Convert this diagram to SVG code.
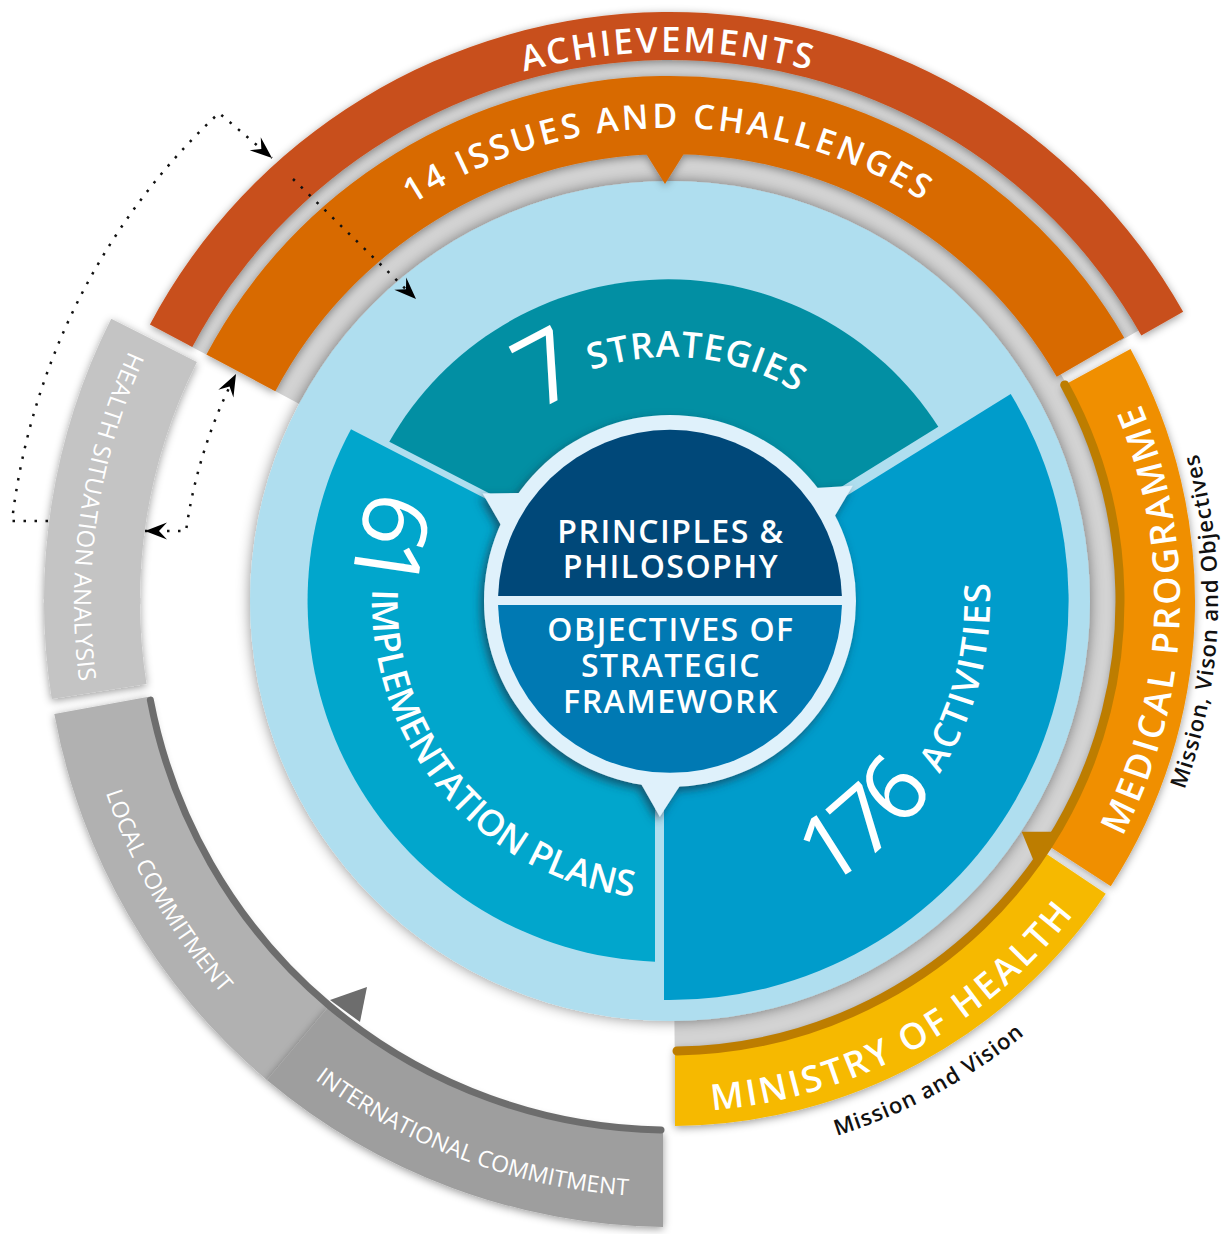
<svg xmlns="http://www.w3.org/2000/svg" width="1228" height="1234" viewBox="0 0 1228 1234">
<defs>
<style>
.lbl{font-family:"Open Sans","Liberation Sans",sans-serif;font-weight:600;fill:#fff}
.gl{font-family:"Open Sans","Liberation Sans",sans-serif;font-weight:400;fill:#fff}
.num{font-family:"Open Sans","Liberation Sans",sans-serif;font-weight:400;fill:#fff}
.blk{font-family:"Open Sans","Liberation Sans",sans-serif;font-weight:600;fill:#111}
.ctr{font-family:"Open Sans","Liberation Sans",sans-serif;font-weight:600;fill:#fff;font-size:32px;letter-spacing:1.5px}
.dot{fill:none;stroke:#111;stroke-width:2.5;stroke-dasharray:2.5 8.5}
.groove{fill:#d3d3d3}
</style>
<filter id="bs" x="-20%" y="-20%" width="140%" height="140%"><feDropShadow dx="0" dy="2" stdDeviation="4" flood-color="#000" flood-opacity="0.4"/></filter>
<filter id="ds" x="-10%" y="-10%" width="120%" height="120%"><feDropShadow dx="0" dy="0" stdDeviation="7" flood-color="#000" flood-opacity="0.45"/></filter>
<filter id="rs" x="-20%" y="-20%" width="140%" height="140%"><feDropShadow dx="-3" dy="4" stdDeviation="5" flood-color="#1d3b4f" flood-opacity="0.75"/></filter>
<marker id="ah" viewBox="-23 -9 24 18" refX="0" refY="0" markerWidth="24" markerHeight="18" markerUnits="userSpaceOnUse" orient="auto-start-reverse"><path d="M0,0 L-22,-8.5 L-14,0 L-22,8.5 Z" fill="#000"/></marker>
<path id="tpAch" d="M 315.64,181.67 A 549 549 0 0 1 1021.23,179.06"/>
<path id="tpIss" d="M 306.60,298.22 A 473 473 0 0 1 1031.28,295.70"/>
<path id="tpStr" d="M 479.04,449.11 A 244 244 0 0 1 852.75,439.32"/>
<path id="tpMed" d="M 1016.19,975.50 A 510 510 0 0 0 1044.20,254.49"/>
<path id="tpMvo" d="M 1041.98,1003.41 A 548 548 0 0 0 1072.08,228.67"/>
<path id="tpMin" d="M 525.72,1091.21 A 511 511 0 0 0 1160.21,745.28"/>
<path id="tpMv" d="M 556.00,1149.63 A 560 560 0 0 0 1190.68,807.15"/>
<path id="tpHsa" d="M 275.08,154.62 A 596 596 0 0 0 161.83,912.41"/>
<path id="tpLoc" d="M 76.27,549.05 A 596 596 0 0 0 418.12,1141.16"/>
<path id="tpInt" d="M 152.30,896.29 A 596 596 0 0 0 870.91,1162.12"/>
<path id="tp61" d="M 401.80,430.14 A 318 318 0 0 0 354.72,642.51"/>
<path id="tpImp" d="M 376.26,550.79 A 298 298 0 0 0 671.56,899"/>
<path id="tpAct" d="M 730.51,915.23 A 320 320 0 0 0 968.94,486.84"/>
</defs>
<rect width="1228" height="1234" fill="#fff"/>

<g id="grooves">
<path class="groove" d="M 270.91,388.80 A 452 452 0 1 1 674.73,1052.98 L 674.35,1015.98 A 415 415 0 1 0 303.58,406.17 Z"/>
<path class="groove" d="M 188.79,345.14 A 545 545 0 0 1 1141.98,328.5 L 1120.33,341 A 520 520 0 0 0 210.87,356.88 Z"/>
</g>

<g id="core-disk">
<circle cx="670" cy="601" r="420" fill="#afdeef" filter="url(#ds)"/>
</g>

<g id="strategies">
<path d="M 675.9,589.4 L 389.3,441.7 A 321 321 0 0 1 938.3,426.7 Z" fill="#028fa3"/>
<text text-anchor="middle"><textPath href="#tpStr" startOffset="50%"><tspan class="num" font-size="98" dy="14">7</tspan><tspan class="lbl" font-size="36" letter-spacing="1" dy="-14"> STRATEGIES</tspan></textPath></text>
</g>

<g id="implementation-plans">
<path d="M 655,585.9 L 351,429.3 A 361 361 0 0 0 655,961.7 Z" fill="#01a6cc"/>
<text class="num" font-size="92" letter-spacing="-6" text-anchor="middle"><textPath href="#tp61" startOffset="50%">61</textPath></text>
<text class="lbl" font-size="36" text-anchor="middle"><textPath href="#tpImp" startOffset="50%">IMPLEMENTATION PLANS</textPath></text>
</g>

<g id="activities">
<path d="M 664,609 L 1010.7,394 A 399 399 0 0 1 664,1000 Z" fill="#009ccb"/>
<text text-anchor="middle"><textPath href="#tpAct" startOffset="50%"><tspan class="num" font-size="92" letter-spacing="-5" dy="5">176</tspan><tspan class="lbl" font-size="36" letter-spacing="2" dx="8" dy="-5"> ACTIVITIES</tspan></textPath></text>
</g>

<g id="center">
<g filter="url(#rs)" fill="#dff1fb">
<circle cx="670" cy="601" r="186"/>
<polygon points="482.7,493.5 501.78,526.45 520.95,493.11"/>
<polygon points="852.7,485.8 815.19,487.97 833.95,517.47"/>
<polygon points="659.82,816.76 640.27,782.58 680.59,784.69"/>
</g>
<path d="M 498.1,596 A 172 172 0 0 1 841.9,596 Z" fill="#004879"/>
<path d="M 841.95,605 A 172 172 0 0 1 498.05,605 Z" fill="#0079b3"/>
<text class="ctr" x="671" y="543" text-anchor="middle">PRINCIPLES &amp;</text>
<text class="ctr" x="671" y="578" text-anchor="middle">PHILOSOPHY</text>
<text class="ctr" x="671" y="641" text-anchor="middle">OBJECTIVES OF</text>
<text class="ctr" x="671" y="677" text-anchor="middle">STRATEGIC</text>
<text class="ctr" x="671" y="713" text-anchor="middle">FRAMEWORK</text>
</g>

<g id="health-situation-analysis">
<path d="M 51.71,698.93 A 626 626 0 0 1 111.24,318.75 L 196.93,362.03 A 530 530 0 0 0 146.52,683.91 Z" fill="#c4c4c4" filter="url(#bs)"/>
<text class="gl" font-size="24" letter-spacing="0.3" text-anchor="middle"><textPath href="#tpHsa" startOffset="50%">HEALTH SITUATION ANALYSIS</textPath></text>
</g>

<g id="local-commitment">
<path d="M 54.29,714.01 A 626 626 0 0 0 266.92,1079.96 L 328.73,1006.51 A 530 530 0 0 1 148.71,696.68 Z" fill="#b1b1b1" filter="url(#bs)"/>
<text class="gl" font-size="23" text-anchor="middle"><textPath href="#tpLoc" startOffset="50%">LOCAL COMMITMENT</textPath></text>
</g>

<g id="international-commitment">
<path d="M 266.92,1079.96 A 626 626 0 0 0 663,1226.96 L 663,1130.95 A 530 530 0 0 1 328.73,1006.51 Z" fill="#9e9e9e" filter="url(#bs)"/>
<text class="gl" font-size="23" text-anchor="middle"><textPath href="#tpInt" startOffset="50%">INTERNATIONAL COMMITMENT</textPath></text>
</g>

<g id="achievements">
<path d="M 149.94,324.48 A 589 589 0 0 1 1183.14,311.86 L 1141.32,335.42 A 541 541 0 0 0 192.32,347.02 Z" fill="#c84f1b" filter="url(#bs)"/>
<text class="lbl" font-size="35" letter-spacing="2.5" text-anchor="middle"><textPath href="#tpAch" startOffset="50%">ACHIEVEMENTS</textPath></text>
</g>

<g id="issues-and-challenges">
<path d="M 206.45,354.53 A 525 525 0 0 1 1124.20,337.71 L 1056.72,376.83 A 447 447 0 0 0 275.32,391.15 Z M 645,152 L 685,152 L 665,184 Z" fill="#d86a00" filter="url(#bs)"/>
<text class="lbl" font-size="34" letter-spacing="3.2" text-anchor="middle"><textPath href="#tpIss" startOffset="50%">14 ISSUES AND CHALLENGES</textPath></text>
</g>

<g id="medical-programme">
<path d="M 1130.50,348.88 A 525 525 0 0 1 1110.80,886.16 L 1045.31,843.80 A 447 447 0 0 0 1062.09,386.34 Z" fill="#f08f00" filter="url(#bs)"/>
<text class="lbl" font-size="36" letter-spacing="3" text-anchor="middle"><textPath href="#tpMed" startOffset="50%">MEDICAL PROGRAMME</textPath></text>
<text class="blk" font-size="22" letter-spacing="1" text-anchor="middle"><textPath href="#tpMvo" startOffset="50%">Mission, Vison and Objectives</textPath></text>
</g>

<g id="ministry-of-health">
<path d="M 1105.74,893.84 A 525 525 0 0 1 675,1125.98 L 675,1047.97 A 447 447 0 0 0 1041.01,850.33 Z" fill="#f6b900" filter="url(#bs)"/>
<text class="lbl" font-size="36" letter-spacing="3" text-anchor="middle"><textPath href="#tpMin" startOffset="50%">MINISTRY OF HEALTH</textPath></text>
<text class="blk" font-size="22" letter-spacing="1" text-anchor="middle"><textPath href="#tpMv" startOffset="50%">Mission and Vision</textPath></text>
</g>

<g id="connectors">
<path d="M 677,1050.95 A 450 450 0 0 0 1064.72,384.90" fill="none" stroke="#bd7d00" stroke-width="9" stroke-linecap="round"/>
<polygon points="1021.7,831.7 1053.3,831.7 1033.3,860" fill="#bd7d00"/>
<path d="M 150.37,700.12 A 529 529 0 0 0 661,1129.92" fill="none" stroke="#6d6d6d" stroke-width="7" stroke-linecap="round"/>
<polygon points="330,1000 367,987 360,1022" fill="#6d6d6d"/>
<path class="dot" d="M 48,521 L 12,521 A 664 664 0 0 1 219,113 L 272,158" marker-end="url(#ah)"/>
<path class="dot" d="M 293,179 L 416,299" marker-end="url(#ah)"/>
<path class="dot" d="M 145,531 L 186,531 A 489 489 0 0 1 236,374" marker-start="url(#ah)" marker-end="url(#ah)"/>
</g>
</svg>
